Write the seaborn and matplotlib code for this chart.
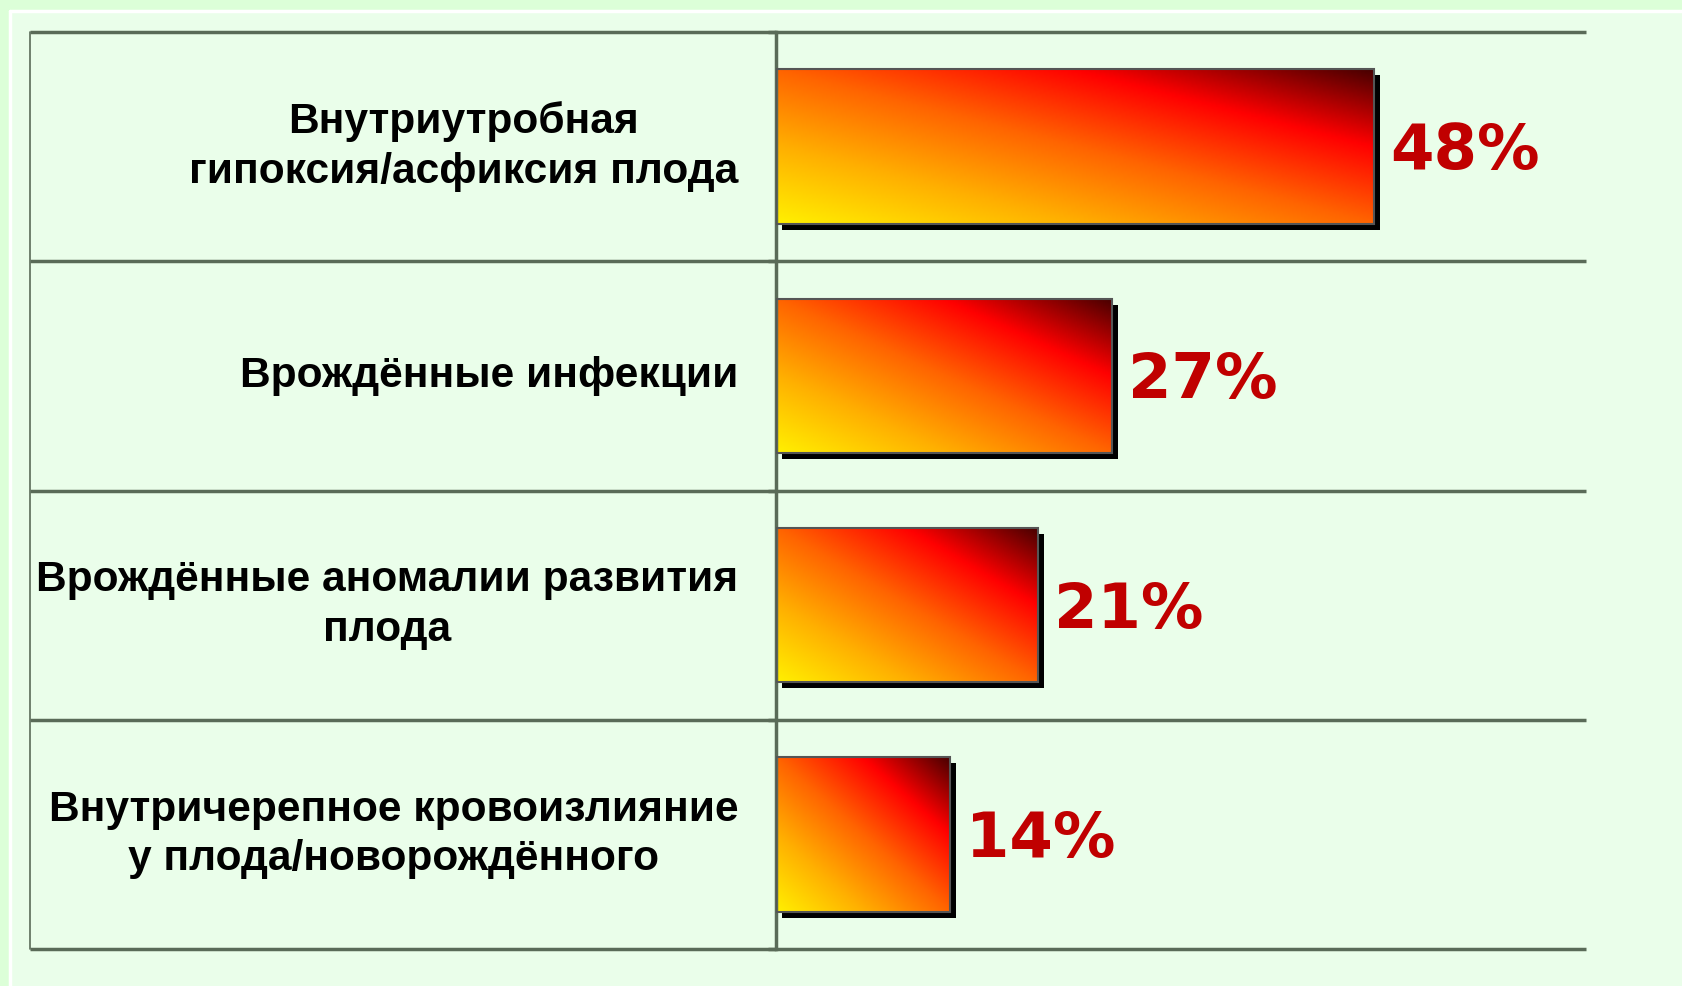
# Horizontal bar chart with gradient-filled bars (causes of perinatal death).

import seaborn as sns
import matplotlib.pyplot as plt
import numpy as np
from matplotlib.colors import LinearSegmentedColormap
from matplotlib.patches import Rectangle
from matplotlib.lines import Line2D
from matplotlib.transforms import ScaledTranslation

# Data
categories = [
    'Внутриутробная\nгипоксия/асфиксия плода',
    'Врождённые инфекции',
    'Врождённые аномалии развития\nплода',
    'Внутричерепное кровоизлияние\nу плода/новорождённого',
]
values = [48, 27, 21, 14]
value_labels = ['48%', '27%', '21%', '14%']

W, H = 1683, 986
line_color = '#5a6b58'
grad = LinearSegmentedColormap.from_list(
    'fire', [(0, '#fff000'), (0.25, '#ffb000'), (0.5, '#ff6400'),
             (0.75, '#ff0000'), (1, '#480000')])

sns.set_theme(style='white')
plt.rcParams['font.family'] = ['Liberation Sans', 'DejaVu Sans']

fig = plt.figure(figsize=(W / 100, H / 100), dpi=100)
fig.patch.set_facecolor('#dcffd8')
# inner panel with a white border on the left and top
fig.add_artist(Rectangle((10 / W, 0), 1 - 10 / W, 1 - 11 / H, transform=fig.transFigure,
                         fc='#eafeea', ec='none', zorder=-2))
fig.add_artist(Line2D([10 / W, 10 / W], [0, 1 - 11 / H], transform=fig.transFigure,
                      color='white', lw=2.5, zorder=-1))
fig.add_artist(Line2D([10 / W, 1], [1 - 11 / H, 1 - 11 / H], transform=fig.transFigure,
                      color='white', lw=2.5, zorder=-1))

ax = fig.add_axes([776 / W, 1 - 949 / H, (1586 - 776) / W, (949 - 32) / H])
ax.set_facecolor('none')

sns.barplot(x=values, y=categories, orient='h', width=0.675, ax=ax,
            color='white', edgecolor='#555555', linewidth=1.5)

# gradient fill + drop shadow for each bar
shadow = ax.transData + ScaledTranslation(6 / 100, -6 / 100, fig.dpi_scale_trans)
u = np.linspace(0, 1, 300)
v = np.linspace(1, 0, 120)
U, V = np.meshgrid(u, v)
T = (U + V) / 2
for p in ax.patches:
    x0, y0, w, h = p.get_x(), p.get_y(), p.get_width(), p.get_height()
    ax.add_patch(Rectangle((x0, y0), w, h, transform=shadow, fc='black', ec='none', zorder=1))
    ax.imshow(T, cmap=grad, vmin=0, vmax=1, extent=(x0, x0 + w, y0 + h, y0),
              origin='upper', aspect='auto', interpolation='bilinear', zorder=2)
    p.set_facecolor('none')
    p.set_zorder(3)
ax.set_xlim(0, 65)
ax.set_ylim(3.5, -0.5)

for i, (val, lab) in enumerate(zip(values, value_labels)):
    ax.annotate(lab, (val, i), xytext=(11.5, -4), textcoords='offset points',
                ha='left', va='center', fontsize=45, fontweight='bold',
                color='#c00000', family='DejaVu Sans')

# table lines
x_left = -(776 - 30) / (1586 - 776)
for yb in [-0.5, 0.5, 1.5, 2.5, 3.5]:
    ax.plot([x_left, 1], [yb, yb], transform=ax.get_yaxis_transform(),
            color=line_color, lw=2.5, clip_on=False, solid_capstyle='butt')
ax.plot([x_left, x_left], [0, 1], transform=ax.transAxes, color=line_color,
        lw=1.2, clip_on=False)

for s in ['top', 'right', 'bottom']:
    ax.spines[s].set_visible(False)
ax.spines['left'].set_color(line_color)
ax.spines['left'].set_linewidth(2.5)

ax.set_xticks([])
ax.set_xlabel('')
ax.set_ylabel('')
ax.set_yticks([-0.5, 0.5, 1.5, 2.5, 3.5], minor=True)
ax.tick_params(axis='y', which='minor', length=6, width=2.5, color=line_color, direction='out', left=True)
ax.tick_params(axis='y', which='major', length=0, pad=27)
for t in ax.get_yticklabels():
    t.set_fontsize(30.6)
    t.set_fontweight('bold')
    t.set_color('black')
    t.set_multialignment('center')
    t.set_verticalalignment('center')
    t.set_linespacing(1.3)

plt.savefig('out.png', dpi=100, facecolor=fig.get_facecolor())
